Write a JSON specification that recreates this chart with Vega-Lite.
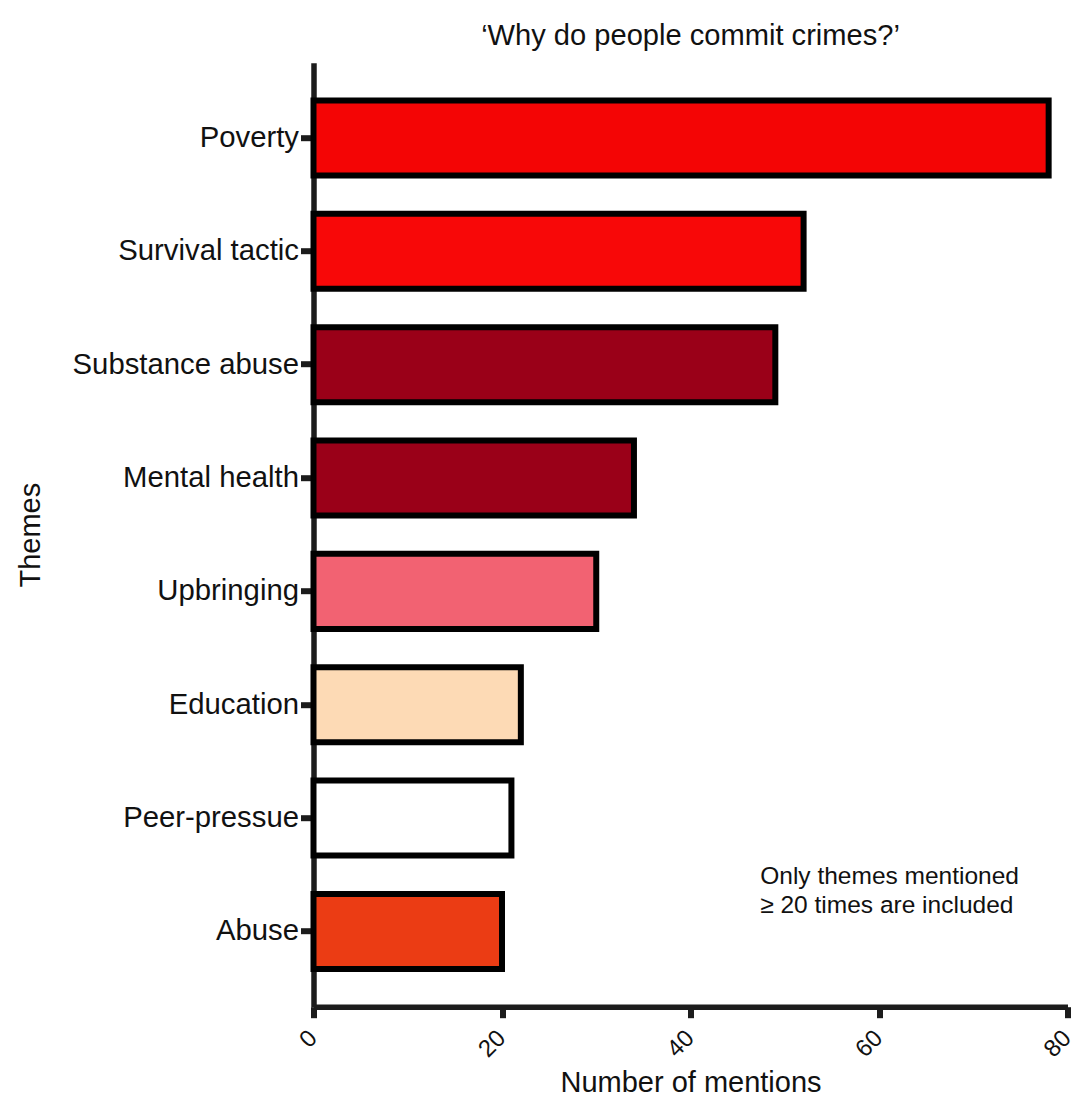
{
  "$schema": "https://vega.github.io/schema/vega-lite/v6.json",
  "autosize": {"type": "none"},
  "width": 754,
  "height": 944,
  "padding": {"left": 313.5, "top": 62.7, "right": 3.5, "bottom": 90.3},
  "background": "white",
  "title": {
    "text": "‘Why do people commit crimes?’",
    "font": "Liberation Sans",
    "fontSize": 29.1,
    "fontWeight": "normal",
    "color": "#111111",
    "anchor": "middle",
    "offset": 12
  },
  "config": {
    "view": {"stroke": null},
    "font": "Liberation Sans"
  },
  "layer": [
    {
      "data": {
        "values": [
          {"theme": "Poverty", "mentions": 78},
          {"theme": "Survival tactic", "mentions": 52},
          {"theme": "Substance abuse", "mentions": 49},
          {"theme": "Mental health", "mentions": 34},
          {"theme": "Upbringing", "mentions": 30},
          {"theme": "Education", "mentions": 22},
          {"theme": "Peer-pressue", "mentions": 21},
          {"theme": "Abuse", "mentions": 20}
        ]
      },
      "mark": {"type": "bar", "stroke": "#000000", "strokeWidth": 6, "strokeJoin": "miter"},
      "encoding": {
        "y": {
          "field": "theme",
          "type": "nominal",
          "sort": null,
          "scale": {"paddingInner": 0.338, "paddingOuter": 0.333},
          "axis": {
            "title": "Themes",
            "titleFont": "Liberation Sans",
            "titleFontSize": 29,
            "titleFontWeight": "normal",
            "titleColor": "#111111",
            "titlePadding": 68,
            "labelFont": "Liberation Sans",
            "labelFontSize": 29.3,
            "labelColor": "#111111",
            "labelPadding": 2,
            "labelLimit": 400,
            "domainColor": "#1c1c1c",
            "domainWidth": 5.5,
            "tickColor": "#1c1c1c",
            "tickWidth": 6,
            "tickSize": 13,
            "grid": false
          }
        },
        "x": {
          "field": "mentions",
          "type": "quantitative",
          "scale": {"domain": [0, 80], "nice": false},
          "axis": {
            "title": "Number of mentions",
            "values": [0, 20, 40, 60, 80],
            "titleFont": "Liberation Sans",
            "titleFontSize": 29,
            "titleFontWeight": "normal",
            "titleColor": "#111111",
            "titlePadding": 7,
            "labelFont": "Liberation Sans",
            "labelFontSize": 24,
            "labelColor": "#111111",
            "labelAngle": -45,
            "labelPadding": 8,
            "labelOffset": -9,
            "domainColor": "#1c1c1c",
            "domainWidth": 5.5,
            "tickColor": "#1c1c1c",
            "tickWidth": 6,
            "tickSize": 11,
            "grid": false
          }
        },
        "color": {
          "field": "theme",
          "type": "nominal",
          "scale": {
            "domain": ["Poverty", "Survival tactic", "Substance abuse", "Mental health", "Upbringing", "Education", "Peer-pressue", "Abuse"],
            "range": ["#F40505", "#F80808", "#9A0018", "#9A0018", "#F26272", "#FDDAB5", "#FFFFFF", "#EB3C14"]
          },
          "legend": null
        }
      }
    },
    {
      "data": {"values": [{"note": "Only themes mentioned ≥ 20 times are included"}]},
      "mark": {
        "type": "text",
        "text": ["Only themes mentioned", "≥ 20 times are included"],
        "font": "Liberation Sans",
        "fontSize": 24.5,
        "color": "#111111",
        "align": "left",
        "baseline": "alphabetic",
        "lineHeight": 29,
        "dy": -47.5
      },
      "encoding": {
        "x": {"datum": 47.4, "type": "quantitative"},
        "y": {"datum": "Abuse", "type": "nominal"}
      }
    }
  ]
}
